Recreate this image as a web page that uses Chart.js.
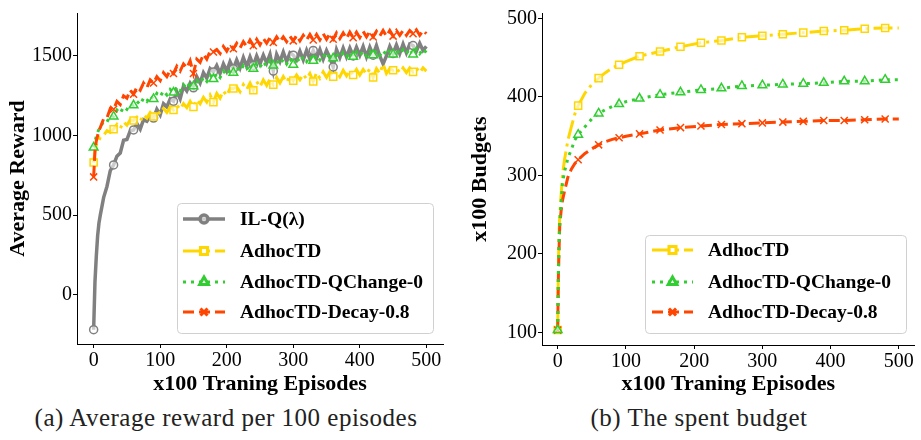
<!DOCTYPE html>
<html lang="en">
  <head>
    <meta charset="UTF-8" />
    <title>Reward and budget</title>
    <script src="https://cdn.jsdelivr.net/npm/chart.js"></script>
    <style>
      body {
        margin: 0;
        background: #ffffff;
        width: 921px;
        height: 440px;
        position: relative;
        overflow: hidden;
        font-family: "Liberation Serif", serif;
      }
      canvas {
        position: absolute;
        top: 0;
      }
      #rewardChart {
        left: 0;
      }
      #budgetChart {
        left: 460px;
      }
      .caption {
        position: absolute;
        top: 404px;
        font-size: 25px;
        letter-spacing: 0.5px;
        color: #222;
        white-space: nowrap;
        transform: translateX(-50%);
      }
    </style>
  </head>
  <body>
    <canvas id="rewardChart" width="460" height="400"></canvas>
    <canvas id="budgetChart" width="461" height="400"></canvas>
    <div class="caption" style="left: 226px">(a) Average reward per 100 episodes</div>
    <div class="caption" style="left: 699px">(b) The spent budget</div>

    <script>
      // ---- data: left chart (average reward per 100 episodes) ----
      const rewardEpisodes = [
        0, 2, 4, 6, 8, 10, 15, 20, 25, 30, 35, 40, 45, 50, 55, 60, 65, 70, 75,
        80, 85, 90, 95, 100, 105, 110, 115, 120, 125, 130, 135, 140, 145, 150,
        155, 160, 165, 170, 175, 180, 185, 190, 195, 200, 205, 210, 215, 220,
        225, 230, 235, 240, 245, 250, 255, 260, 265, 270, 275, 280, 285, 290,
        295, 300, 305, 310, 315, 320, 325, 330, 335, 340, 345, 350, 355, 360,
        365, 370, 375, 380, 385, 390, 395, 400, 405, 410, 415, 420, 425, 430,
        435, 440, 445, 450, 455, 460, 465, 470, 475, 480, 485, 490, 495, 500,
      ];
      const rewardILQ = [
        -220, 80, 240, 370, 450, 500, 610, 680, 780, 815,
        870, 890, 970, 975, 1030, 1035, 1075, 1040, 1100, 1090,
        1120, 1110, 1165, 1130, 1200, 1180, 1230, 1215, 1275, 1230,
        1310, 1280, 1330, 1300, 1370, 1330, 1395, 1360, 1420, 1400,
        1440, 1390, 1450, 1405, 1465, 1420, 1475, 1425, 1490, 1435,
        1495, 1440, 1500, 1450, 1505, 1455, 1510, 1405, 1510, 1465,
        1525, 1465, 1520, 1505, 1475, 1530, 1475, 1535, 1480, 1535,
        1485, 1540, 1480, 1535, 1490, 1430, 1540, 1490, 1550, 1495,
        1550, 1500, 1555, 1505, 1560, 1495, 1555, 1505, 1565, 1500,
        1450, 1500, 1560, 1515, 1570, 1515, 1575, 1520, 1575, 1565,
        1530, 1580, 1535, 1560,
      ];
      const rewardAdhoc = [
        830, 900, 940, 965, 970, 990, 1000, 1030, 1020, 1040,
        1070, 1045, 1085, 1065, 1100, 1095, 1115, 1090, 1130, 1110,
        1145, 1120, 1160, 1135, 1170, 1145, 1180, 1160, 1190, 1165,
        1200, 1175, 1215, 1180, 1225, 1200, 1240, 1210, 1255, 1210,
        1265, 1235, 1280, 1250, 1295, 1295, 1305, 1275, 1320, 1290,
        1330, 1285, 1340, 1305, 1350, 1315, 1355, 1320, 1365, 1330,
        1370, 1335, 1375, 1345, 1380, 1350, 1385, 1355, 1390, 1340,
        1395, 1360, 1400, 1365, 1400, 1370, 1405, 1370, 1410, 1375,
        1410, 1380, 1415, 1380, 1415, 1385, 1420, 1365, 1420, 1390,
        1450, 1390, 1420, 1410, 1425, 1395, 1425, 1395, 1425, 1400,
        1425, 1395, 1425, 1405,
      ];
      const rewardQChange = [
        925, 960, 995, 1020, 1040, 1050, 1090, 1085, 1125, 1120,
        1160, 1140, 1180, 1165, 1195, 1190, 1215, 1195, 1235, 1215,
        1250, 1230, 1265, 1245, 1280, 1255, 1290, 1270, 1305, 1280,
        1320, 1295, 1335, 1310, 1345, 1325, 1365, 1340, 1380, 1355,
        1390, 1365, 1405, 1380, 1415, 1395, 1430, 1405, 1440, 1415,
        1450, 1420, 1455, 1430, 1465, 1435, 1470, 1440, 1475, 1445,
        1480, 1450, 1485, 1445, 1490, 1460, 1495, 1465, 1500, 1470,
        1505, 1475, 1510, 1480, 1515, 1485, 1515, 1490, 1520, 1495,
        1525, 1495, 1525, 1500, 1530, 1500, 1530, 1505, 1535, 1505,
        1535, 1505, 1540, 1510, 1540, 1510, 1540, 1515, 1545, 1510,
        1545, 1515, 1545, 1520,
      ];
      const rewardDecay = [
        740, 900, 965, 1000, 1035, 1050, 1105, 1110, 1170, 1165,
        1215, 1195, 1250, 1235, 1285, 1260, 1305, 1285, 1330, 1300,
        1350, 1330, 1370, 1345, 1395, 1370, 1410, 1390, 1435, 1405,
        1450, 1425, 1470, 1390, 1480, 1460, 1510, 1480, 1530, 1525,
        1540, 1515, 1560, 1530, 1570, 1545, 1580, 1550, 1590, 1560,
        1600, 1565, 1605, 1570, 1610, 1580, 1615, 1585, 1620, 1590,
        1620, 1590, 1625, 1595, 1630, 1595, 1630, 1600, 1635, 1600,
        1635, 1600, 1640, 1605, 1640, 1605, 1645, 1610, 1645, 1610,
        1650, 1615, 1650, 1615, 1655, 1620, 1655, 1620, 1655, 1625,
        1660, 1625, 1660, 1625, 1660, 1630, 1660, 1630, 1660, 1640,
        1665, 1630, 1660, 1640,
      ];

      // ---- data: right chart (spent budget) ----
      const budgetEpisodes = [
        0, 1, 2, 3, 5, 7, 10, 15, 20, 25, 30, 40, 50, 60, 70, 80, 90, 100, 120,
        150, 180, 210, 240, 270, 300, 330, 360, 390, 420, 450, 480, 500,
      ];
      const budgetAdhoc = [
        103, 185, 225, 250, 275, 300, 320, 345, 362, 378, 389, 405, 416, 424,
        431, 437, 441, 445, 452, 458, 464, 469, 472, 476, 478, 480, 482, 484,
        485, 487, 488, 488,
      ];
      const budgetQChange = [
        103, 175, 215, 240, 265, 290, 305, 322, 333, 345, 352, 362, 372, 379,
        384, 388, 391, 394, 398, 403, 406, 409, 411, 414, 415, 416, 417, 418,
        420, 420, 422, 422,
      ];
      const budgetDecay = [
        103, 170, 206, 235, 255, 268, 280, 298, 308, 315, 320, 328, 334, 339,
        343, 346, 348, 350, 353, 358, 361, 363, 365, 366, 367, 368, 369, 370,
        370, 371, 372, 372,
      ];

      // ---- tick labels ----
      const episodeTicks = [0, 100, 200, 300, 400, 500];
      const rewardTicks = [0, 500, 1000, 1500];
      const budgetTicks = [100, 200, 300, 400, 500];

      const FONT = "'Liberation Serif', serif";
      Chart.defaults.font.family = FONT;
      Chart.defaults.color = "#000";

      const toPoints = (xs, ys) => xs.map((x, i) => ({ x: x, y: ys[i] }));
      const markEvery = (xs, r) => (ctx) => (xs[ctx.dataIndex] % 30 === 0 ? r : 0);

      // legend drawn inside the plot area, like matplotlib
      const insideLegend = {
        id: "insideLegend",
        afterDraw(chart, args, opts) {
          const ctx = chart.ctx;
          const b = opts.box;
          ctx.save();
          ctx.beginPath();
          ctx.roundRect(b.x + 0.5, b.y + 0.5, b.w, b.h, 4);
          ctx.fillStyle = "rgba(255,255,255,0.85)";
          ctx.fill();
          ctx.strokeStyle = "#d0d0d0";
          ctx.lineWidth = 1;
          ctx.stroke();

          chart.data.datasets.forEach((ds, i) => {
            const y = opts.rows[i];
            ctx.save();
            ctx.strokeStyle = ds.borderColor;
            ctx.lineWidth = ds.borderWidth;
            ctx.setLineDash(ds.borderDash || []);
            ctx.beginPath();
            ctx.moveTo(opts.lineX0, y);
            ctx.lineTo(opts.lineX1, y);
            ctx.stroke();
            ctx.setLineDash([]);
            ctx.strokeStyle = ds.pointBorderColor;
            ctx.fillStyle = ds.pointBackgroundColor;
            Chart.helpers.drawPoint(
              ctx,
              {
                pointStyle: ds.pointStyle,
                radius: ds.legendRadius,
                rotation: 0,
                borderWidth: ds.pointBorderWidth,
              },
              (opts.lineX0 + opts.lineX1) / 2,
              y
            );
            ctx.restore();

            ctx.fillStyle = "#000";
            ctx.font = "bold 19.5px " + FONT;
            ctx.textBaseline = "middle";
            ctx.fillText(ds.label, opts.textX, y + 1);
          });
          ctx.restore();
        },
      };

      function axes(opts) {
        const tickFont = { family: FONT, size: 20 };
        const titleFont = { family: FONT, size: 22, weight: "bold" };
        return {
          x: {
            type: "linear",
            min: opts.xMin,
            max: opts.xMax,
            afterBuildTicks: (s) => {
              s.ticks = episodeTicks.map((v) => ({ value: v }));
            },
            afterFit: (s) => {
              s.height = opts.xHeight;
            },
            ticks: { font: tickFont, color: "#000", padding: 1, maxRotation: 0, callback: (v) => String(v) },
            grid: { drawOnChartArea: false, drawTicks: true, tickLength: 4, color: "#000" },
            border: { display: true, color: "#000", width: 1 },
            title: {
              display: true,
              text: "x100 Traning Episodes",
              font: titleFont,
              color: "#000",
              padding: { top: 0, bottom: 2 },
            },
          },
          y: {
            type: "linear",
            min: opts.yMin,
            max: opts.yMax,
            afterBuildTicks: (s) => {
              s.ticks = opts.yTicks.map((v) => ({ value: v }));
            },
            afterFit: (s) => {
              s.width = opts.yWidth;
            },
            ticks: { font: tickFont, color: "#000", padding: 1, callback: (v) => String(v) },
            grid: { drawOnChartArea: false, drawTicks: true, tickLength: 4, color: "#000" },
            border: { display: true, color: "#000", width: 1 },
            title: {
              display: true,
              text: opts.yTitle,
              font: titleFont,
              color: "#000",
              padding: { top: opts.yTitlePad, bottom: 0 },
            },
          },
        };
      }

      function series(label, xs, ys, style) {
        return {
          label: label,
          data: toPoints(xs, ys),
          borderColor: style.color,
          pointBorderColor: style.color,
          pointBackgroundColor: "rgba(255,255,255,0.6)",
          pointBorderWidth: 1.5,
          pointStyle: style.marker,
          pointRadius: markEvery(xs, style.radius),
          legendRadius: style.radius,
          borderWidth: style.width,
          borderDash: style.dash,
          borderCapStyle: "butt",
          tension: 0,
          fill: false,
          order: style.order,
        };
      }

      const GRAY = "#808080";
      const GOLD = "#FFD700";
      const GREEN = "#32CD32";
      const RED = "#FF4500";

      // ---- left chart ----
      new Chart(document.getElementById("rewardChart"), {
        type: "line",
        data: {
          datasets: [
            series("IL-Q(\u03bb)", rewardEpisodes, rewardILQ, {
              color: GRAY, marker: "circle", radius: 4, width: 3.5, dash: [], order: 4,
            }),
            series("AdhocTD", rewardEpisodes, rewardAdhoc, {
              color: GOLD, marker: "rect", radius: 5, width: 3, dash: [19, 5, 3, 5], order: 3,
            }),
            series("AdhocTD-QChange-0", rewardEpisodes, rewardQChange, {
              color: GREEN, marker: "triangle", radius: 5, width: 3, dash: [3, 5], order: 2,
            }),
            series("AdhocTD-Decay-0.8", rewardEpisodes, rewardDecay, {
              color: RED, marker: "crossRot", radius: 5, width: 3, dash: [11, 5], order: 1,
            }),
          ],
        },
        options: {
          responsive: false,
          animation: false,
          devicePixelRatio: 1,
          events: [],
          layout: { padding: { left: 0, right: 17, top: 7, bottom: 0 } },
          plugins: {
            legend: { display: false },
            tooltip: { enabled: false },
            insideLegend: {
              box: { x: 177, y: 203, w: 256, h: 130 },
              rows: [219, 251, 282, 312],
              lineX0: 183,
              lineX1: 225,
              textX: 240,
            },
          },
          scales: axes({
            xMin: -25, xMax: 525, xHeight: 56,
            yMin: -310, yMax: 1770, yWidth: 77,
            yTicks: rewardTicks, yTitle: "Average Reward", yTitlePad: 5,
          }),
        },
        plugins: [insideLegend],
      });

      // ---- right chart ----
      new Chart(document.getElementById("budgetChart"), {
        type: "line",
        data: {
          datasets: [
            series("AdhocTD", budgetEpisodes, budgetAdhoc, {
              color: GOLD, marker: "rect", radius: 5, width: 3, dash: [19, 5, 3, 5], order: 3,
            }),
            series("AdhocTD-QChange-0", budgetEpisodes, budgetQChange, {
              color: GREEN, marker: "triangle", radius: 5, width: 3, dash: [3, 5], order: 1,
            }),
            series("AdhocTD-Decay-0.8", budgetEpisodes, budgetDecay, {
              color: RED, marker: "crossRot", radius: 5, width: 3, dash: [11, 5], order: 2,
            }),
          ],
        },
        options: {
          responsive: false,
          animation: false,
          devicePixelRatio: 1,
          events: [],
          layout: { padding: { left: 0, right: 5, top: 10, bottom: 0 } },
          plugins: {
            legend: { display: false },
            tooltip: { enabled: false },
            insideLegend: {
              box: { x: 185, y: 235, w: 261, h: 98 },
              rows: [250, 282, 312],
              lineX0: 192,
              lineX1: 233,
              textX: 248,
            },
          },
          scales: axes({
            xMin: -23, xMax: 523, xHeight: 55,
            yMin: 84, yMax: 507, yWidth: 82,
            yTicks: budgetTicks, yTitle: "x100 Budgets", yTitlePad: 7,
          }),
        },
        plugins: [insideLegend],
      });
    </script>
  </body>
</html>
